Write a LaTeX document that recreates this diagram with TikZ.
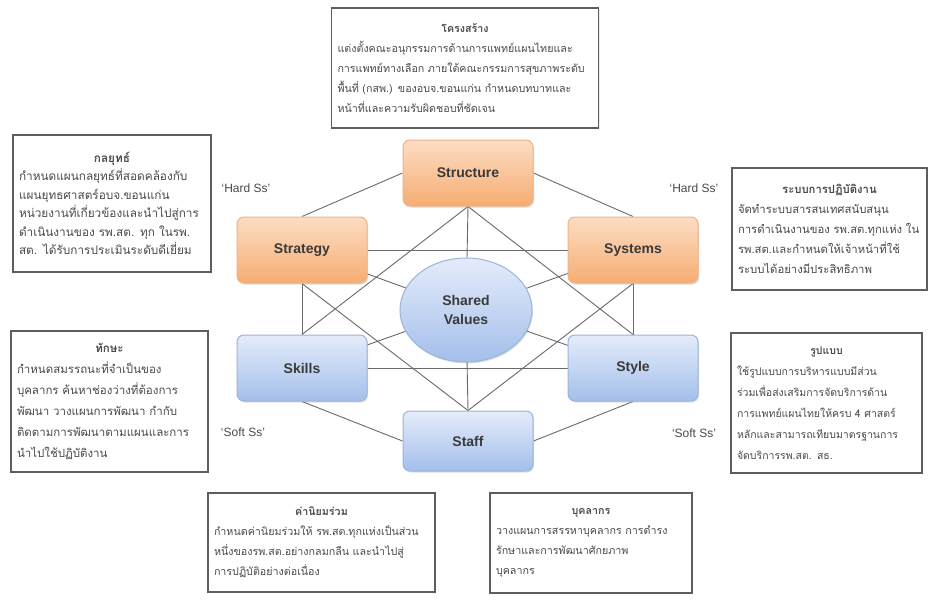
\documentclass[tikz,border=0pt]{standalone}
\usepackage{fontspec}
\setmainfont{Liberation Sans}
\newfontfamily\thaifont[Script=Thai]{Loma}
\usetikzlibrary{shadows,shapes.geometric}
\pgfdeclarelayer{paper}
\pgfdeclarelayer{bg}
\pgfsetlayers{paper,bg,main}
\definecolor{orTop}{HTML}{FCDDC4}
\definecolor{orBot}{HTML}{F6AD72}
\definecolor{orLine}{HTML}{F0B387}
\definecolor{blTop}{HTML}{E4ECFA}
\definecolor{blBot}{HTML}{A4BFEB}
\definecolor{blLine}{HTML}{9CB4DC}
\definecolor{ink}{HTML}{3A3A3A}
\definecolor{wire}{HTML}{6A6A6A}
\definecolor{boxline}{HTML}{5E5E5E}
\definecolor{txt}{HTML}{4A4A4A}
\tikzset{
  sbox/.style={rectangle, rounded corners=7pt, minimum width=130pt, minimum height=66pt,
    line width=1pt, text=ink, font=\fontsize{14}{16}\selectfont\bfseries,
    drop shadow={shadow xshift=1pt, shadow yshift=-1.5pt, opacity=0.25}},
  hardbox/.style={sbox, top color=orTop, bottom color=orBot, draw=orLine},
  softbox/.style={sbox, top color=blTop, bottom color=blBot, draw=blLine},
  valbox/.style={ellipse, minimum width=132pt, minimum height=104pt, top color=blTop,
    bottom color=blBot, draw=blLine, line width=1pt, text=ink, align=center,
    font=\fontsize{14}{19}\selectfont\bfseries,
    drop shadow={shadow xshift=1pt, shadow yshift=-1.5pt, opacity=0.25}},
  tbox/.style={rectangle, draw=boxline, line width=1.2pt, fill=white, text=txt,
    align=left, inner sep=6pt, font=\thaifont\fontsize{10.7}{20}\selectfont,
    drop shadow={shadow xshift=1pt, shadow yshift=-1pt, opacity=0.15}},
  sslabel/.style={text=txt, font=\fontsize{12}{14}\selectfont},
  wireline/.style={draw=wire, line width=0.9pt}
}
\newcommand{\ttl}[1]{\makebox[\linewidth]{\bfseries #1}}
\begin{document}
\begin{tikzpicture}[x=1pt,y=-1pt]
\useasboundingbox (0,0) rectangle (931,603);
\begin{pgfonlayer}{paper}
\fill[white] (0,0) rectangle (931,603);
\end{pgfonlayer}

% core nodes
\node[hardbox] (structure) at (468,173) {Structure};
\node[hardbox] (strategy) at (302,250) {Strategy};
\node[hardbox] (systems) at (633,250) {Systems};
\node[softbox] (skills) at (302,368) {Skills};
\node[softbox] (style) at (633,368) {Style};
\node[softbox, minimum height=60pt] (staff) at (468,441) {Staff};
\node[valbox] (values) at (466,310) {Shared\\Values};

% labels
\node[sslabel] (hardL) at (246,188) {`Hard Ss'};
\node[sslabel] (hardR) at (694,188) {`Hard Ss'};
\node[sslabel] (softL) at (243,432) {`Soft Ss'};
\node[sslabel] (softR) at (694,433) {`Soft Ss'};

% connectors
\begin{pgfonlayer}{bg}
\path[wireline] (structure.west) -- (strategy.north);
\path[wireline] (structure.east) -- (systems.north);
\path[wireline] (strategy.south) -- (skills.north);
\path[wireline] (systems.south) -- (style.north);
\path[wireline] (skills.south) -- (staff.west);
\path[wireline] (style.south) -- (staff.east);
\path[wireline] (strategy.east) -- (systems.west);
\path[wireline] (skills.east) -- (style.west);
\path[wireline] (structure.south) -- (skills.north);
\path[wireline] (structure.south) -- (style.north);
\path[wireline] (strategy.south) -- (staff.north);
\path[wireline] (systems.south) -- (staff.north);
\path[wireline] (structure.south) -- (values.center);
\path[wireline] (staff.north) -- (values.center);
\path[wireline] (strategy.center) -- (values.center);
\path[wireline] (systems.center) -- (values.center);
\path[wireline] (skills.center) -- (values.center);
\path[wireline] (style.center) -- (values.center);
\end{pgfonlayer}

% text boxes
\node[tbox, text width=255pt, minimum height=120pt] (tStructure) at (465,68) {%
\ttl{โครงสร้าง}\\
แต่งตั้งคณะอนุกรรมการด้านการแพทย์แผนไทยและ\\
การแพทย์ทางเลือก ภายใต้คณะกรรมการสุขภาพระดับ\\
พื้นที่ (กสพ.) ของอบจ.ขอนแก่น กำหนดบทบาทและ\\
หน้าที่และความรับผิดชอบที่ชัดเจน};

\node[tbox, text width=186pt, minimum height=137pt, font=\thaifont\fontsize{11.8}{18.5}\selectfont] (tStrategy) at (112,203.5) {%
\ttl{กลยุทธ์}\\
กำหนดแผนกลยุทธ์ที่สอดคล้องกับ\\
แผนยุทธศาสตร์อบจ.ขอนแก่น\\
หน่วยงานที่เกี่ยวข้องและนำไปสู่การ\\
ดำเนินงานของ รพ.สต. ทุก ในรพ.\\
สต. ได้รับการประเมินระดับดีเยี่ยม};

\node[tbox, text width=183pt, minimum height=122pt, font=\thaifont\fontsize{11.3}{20}\selectfont] (tSystems) at (829.5,229) {%
\ttl{ระบบการปฏิบัติงาน}\\
จัดทำระบบสารสนเทศสนับสนุน\\
การดำเนินงานของ รพ.สต.ทุกแห่ง ใน\\
รพ.สต.และกำหนดให้เจ้าหน้าที่ใช้\\
ระบบได้อย่างมีประสิทธิภาพ};

\node[tbox, text width=185pt, minimum height=141pt, font=\thaifont\fontsize{11.5}{21}\selectfont] (tSkills) at (109.5,401.5) {%
\ttl{ทักษะ}\\
กำหนดสมรรถนะที่จำเป็นของ\\
บุคลากร ค้นหาช่องว่างที่ต้องการ\\
พัฒนา วางแผนการพัฒนา กำกับ\\
ติดตามการพัฒนาตามแผนและการ\\
นำไปใช้ปฏิบัติงาน};

\node[tbox, text width=179pt, minimum height=140pt, font=\thaifont\fontsize{10.5}{21}\selectfont] (tStyle) at (826.5,403) {%
\ttl{รูปแบบ}\\
ใช้รูปแบบการบริหารแบบมีส่วน\\
ร่วมเพื่อส่งเสริมการจัดบริการด้าน\\
การแพทย์แผนไทยให้ครบ 4 ศาสตร์\\
หลักและสามารถเทียบมาตรฐานการ\\
จัดบริการรพ.สต. สธ.};

\node[tbox, text width=215pt, minimum height=99pt] (tValues) at (321.5,542.5) {%
\ttl{ค่านิยมร่วม}\\
กำหนดค่านิยมร่วมให้ รพ.สต.ทุกแห่งเป็นส่วน\\
หนึ่งของรพ.สต.อย่างกลมกลืน และนำไปสู่\\
การปฏิบัติอย่างต่อเนื่อง};

\node[tbox, text width=190pt, minimum height=100pt] (tStaff) at (591,543) {%
\ttl{บุคลากร}\\
วางแผนการสรรหาบุคลากร การดำรง\\
รักษาและการพัฒนาศักยภาพ\\
บุคลากร};
\end{tikzpicture}
\end{document}
